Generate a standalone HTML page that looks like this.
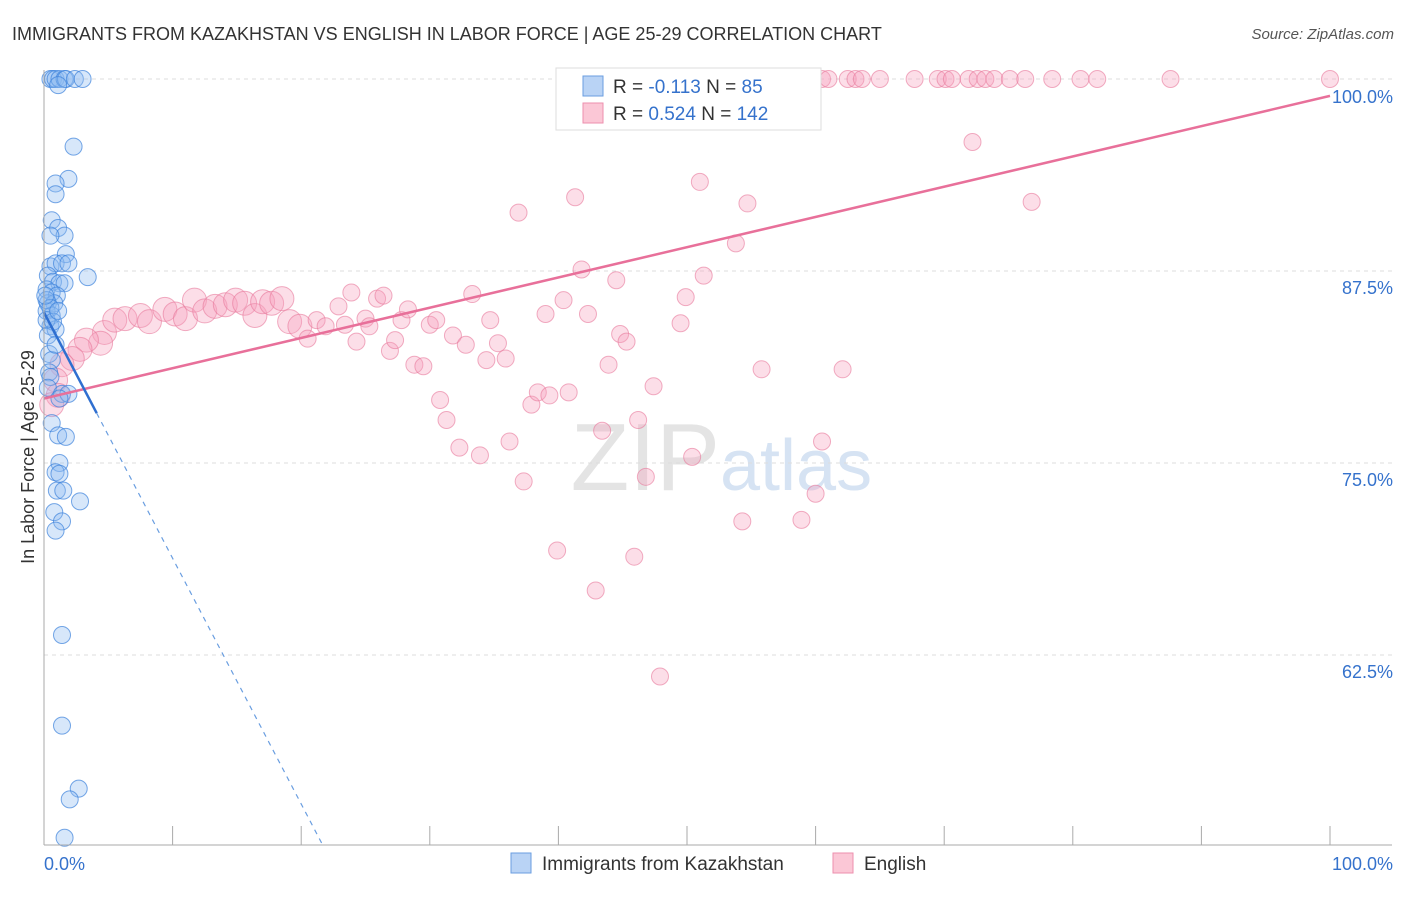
<!DOCTYPE html>
<html><head><meta charset="utf-8"><style>
body{margin:0;background:#fff;font-family:"Liberation Sans",sans-serif}
svg text{font-family:"Liberation Sans",sans-serif}
</style></head><body>
<svg id="c" width="1406" height="892" xmlns="http://www.w3.org/2000/svg">
<text x="12" y="40" font-size="18" fill="#333">IMMIGRANTS FROM KAZAKHSTAN VS ENGLISH IN LABOR FORCE | AGE 25-29 CORRELATION CHART</text>
<text x="1394" y="39" font-size="15" fill="#555" text-anchor="end" font-style="italic">Source: ZipAtlas.com</text>
<text x="720" y="490" font-size="96" fill="#e4e4e4" text-anchor="end" font-family="Liberation Serif">ZIP</text>
<text x="720" y="490" font-size="72" fill="#d6e3f3">atlas</text>
<g id="grid"></g><g id="pts"></g><g id="lines"></g><g id="axes"></g>
<text transform="translate(34,457) rotate(-90)" font-size="18" fill="#333" text-anchor="middle">In Labor Force | Age 25-29</text>
<g>
<rect x="556" y="68" width="265" height="62" fill="#fff" stroke="#ddd"/>
<rect x="583" y="76" width="20" height="20" fill="#b9d3f5" stroke="#6a9ee0"/>
<rect x="583" y="103" width="20" height="20" fill="#fbc7d6" stroke="#ec8fae"/>
<text x="613" y="93" font-size="19" fill="#333">R = <tspan fill="#3572cc">-0.113</tspan>   N = <tspan fill="#3572cc">  85</tspan></text>
<text x="613" y="120" font-size="19" fill="#333">R = <tspan fill="#3572cc">0.524</tspan>   N = <tspan fill="#3572cc">142</tspan></text>
</g>
<g>
<rect x="511" y="853" width="20" height="20" fill="#b9d3f5" stroke="#6a9ee0"/>
<text x="542" y="870" font-size="19" fill="#333">Immigrants from Kazakhstan</text>
<rect x="833" y="853" width="20" height="20" fill="#fbc7d6" stroke="#ec8fae"/>
<text x="864" y="870" font-size="19" fill="#333">English</text>
</g>
</svg>
<script>
const blueX=[.5,.7,.9,1.2,1.6,1.7,2.4,3.0,1.1,2.3,1.9,.9,.9,.6,1.1,1.6,.5,1.7,.5,.9,1.4,1.9,3.4,.3,.7,1.2,1.6,.2,.6,1.0,.3,.8,.2,.6,.5,.9,.4,.6,.4,.5,.3,1.4,1.9,1.2,.6,1.1,1.7,1.2,.9,1.2,1.0,1.5,2.8,.8,1.4,.9,1.4,1.4,2.7,2.0,1.6,.2,.5,.2,.7,.3,.9,.1,1.1];
const blueY=[100,100,100,100,100,100,100,100,99.6,95.6,93.5,93.2,92.5,90.8,90.3,89.8,89.8,88.6,87.8,88,88,88,87.1,87.2,86.8,86.7,86.7,86.3,86.1,85.9,85.4,85.4,84.9,84.6,83.9,83.7,82.1,81.7,80.9,80.6,79.9,79.5,79.5,79.2,77.6,76.8,76.7,75,74.4,74.3,73.2,73.2,72.5,71.8,71.2,70.6,63.8,57.9,53.8,53.1,50.6,85.6,85.1,84.3,84.2,83.3,82.7,85.9,84.9];
const pinkX=[48.7,52.2,53.3,55.1,55.7,56.5,58.0,58.8,60.5,61.0,62.5,63.1,63.6,65.0,67.7,69.5,70.1,70.6,71.9,72.6,73.2,73.9,75.1,76.3,78.4,80.6,81.9,87.6,100,44.8,46.3,47.5,
4.7,4.4,3.3,2.8,2.2,1.4,.9,1.1,.6,5.5,6.3,7.5,8.2,9.4,10.2,11.0,11.7,12.5,13.3,14.1,14.9,15.6,16.4,17.0,17.7,18.5,19.1,19.9,20.5,21.2,21.9,22.9,23.4,23.9,24.3,25.0,25.3,25.9,26.4,26.9,27.3,27.8,28.3,28.8,29.5,30.0,30.5,30.8,31.3,31.8,32.3,32.8,33.3,33.9,34.4,34.7,35.3,35.9,36.2,36.9,37.3,37.9,38.4,39.0,39.3,39.9,40.4,40.8,41.3,41.8,42.3,42.9,43.4,43.9,44.5,44.8,45.3,45.9,46.2,46.8,47.4,47.9,49.5,49.9,50.4,51.0,51.3,53.8,54.3,54.7,55.8,58.9,60.0,60.5,62.1,72.2,76.8];
const pinkY=[100,100,100,100,100,100,100,100,100,100,100,100,100,100,100,100,100,100,100,100,100,100,100,100,100,100,100,100,100,100,100,100,
83.5,82.8,83.0,82.4,81.8,81.4,80.4,79.4,78.8,84.3,84.4,84.6,84.2,85.0,84.7,84.4,85.6,84.9,85.2,85.3,85.6,85.4,84.6,85.5,85.4,85.7,84.2,83.9,83.1,84.3,83.9,85.2,84.0,86.1,82.9,84.4,83.9,85.7,85.9,82.3,83.0,84.3,85.0,81.4,81.3,84.0,84.3,79.1,77.8,83.3,76.0,82.7,86.0,75.5,81.7,84.3,82.8,81.8,76.4,91.3,73.8,78.8,79.6,84.7,79.4,69.3,85.6,79.6,92.3,87.6,84.7,66.7,77.1,81.4,86.9,83.4,82.9,68.9,77.8,74.1,80.0,61.1,84.1,85.8,75.4,93.3,87.2,89.3,71.2,91.9,81.1,71.3,73.0,76.4,81.1,95.9,92.0];
const yTicks=[100,87.5,75,62.5];
const yTickLabels=["100.0%","87.5%","75.0%","62.5%"];
const xTicks=[0,10,20,30,40,50,60,70,80,90,100];
const pinkTrend=[79.2,98.9];
const blueTrend=[84.8,-1.6];
const NS="http://www.w3.org/2000/svg";
const X0=44,X1=1330,YMAX=100,YMIN=50.13,PY0=79,PY1=845;
const sx=v=>X0+(v/100)*(X1-X0);
const sy=v=>PY0+(YMAX-v)/(YMAX-YMIN)*(PY1-PY0);
function mk(tag,attrs,parent){const e=document.createElementNS(NS,tag);for(const k in attrs)e.setAttribute(k,attrs[k]);document.getElementById(parent).appendChild(e);return e;}
yTicks.forEach((t,i)=>{
 const g=mk('line',{x1:X0,x2:1392,y1:sy(t),y2:sy(t),stroke:'#ddd','stroke-dasharray':'4,4'},'grid');
 
 
 const l=mk('text',{x:1393,y:sy(t)+(i==0?24:23),'font-size':18,fill:'#3572cc','text-anchor':'end'},'axes');
 l.textContent=yTickLabels[i];
 
 
});
pinkX.forEach((x,i)=>{
 const r=(x<20&&pinkY[i]<90)?12:8.5;
 const c=mk('circle',{cx:sx(x),cy:sy(pinkY[i]),r:r,fill:'rgba(246,160,188,0.35)',stroke:'rgba(232,120,155,0.6)','stroke-width':1},'pts');
 
 
});
blueX.forEach((x,i)=>{
 const c=mk('circle',{cx:sx(x),cy:sy(blueY[i]),r:8.5,fill:'rgba(140,185,240,0.35)',stroke:'rgba(60,130,220,0.7)','stroke-width':1},'pts');
 
 
});
let pl=mk('line',{x1:sx(0),y1:sy(pinkTrend[0]),x2:sx(100),y2:sy(pinkTrend[1]),stroke:'#e8709a','stroke-width':2.5},'lines');


const bx1=4.1, bxEnd=(blueTrend[0]-YMIN)/(-blueTrend[1]);
let bl=mk('line',{x1:sx(0),y1:sy(blueTrend[0]),x2:sx(bx1),y2:sy(blueTrend[0]+blueTrend[1]*bx1),stroke:'#2f6fd0','stroke-width':2.5},'lines');


let bd=mk('line',{x1:sx(bx1),y1:sy(blueTrend[0]+blueTrend[1]*bx1),x2:sx(bxEnd),y2:sy(YMIN),stroke:'#6a9ee0','stroke-width':1.2,'stroke-dasharray':'5,5'},'lines');


let ax=mk('line',{x1:X0,x2:1392,y1:PY1,y2:PY1,stroke:'#aaa'},'axes');


let ay=mk('line',{x1:X0,x2:X0,y1:70,y2:PY1,stroke:'#aaa'},'axes');


xTicks.forEach(t=>{
 const k=mk('line',{x1:sx(t),x2:sx(t),y1:826,y2:PY1,stroke:'#aaa'},'axes');
 
 
});
let x0=mk('text',{x:44,y:870,'font-size':18,fill:'#3572cc'},'axes');x0.textContent='0.0%';


let x1=mk('text',{x:1393,y:870,'font-size':18,fill:'#3572cc','text-anchor':'end'},'axes');x1.textContent='100.0%';


</script>
</body></html>
